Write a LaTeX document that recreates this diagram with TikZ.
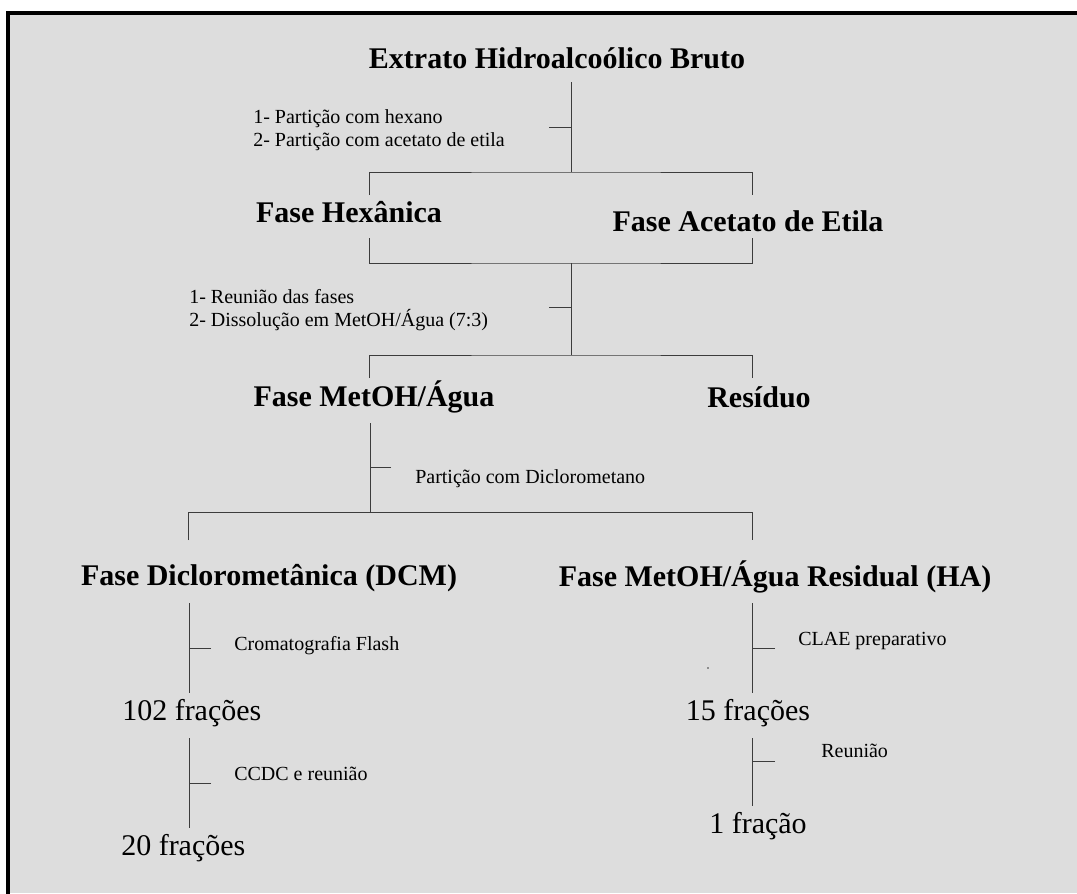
\documentclass[tikz,border=0pt]{standalone}
\usepackage{fontspec}
\setmainfont{Liberation Serif}
\definecolor{fundo}{RGB}{221,221,221}
\definecolor{traco}{RGB}{60,60,60}

\begin{document}
\begin{tikzpicture}[x = 0.75pt, y = -0.75pt,
    fase/.style = {font = \fontsize{22.5}{27}\selectfont\bfseries, inner sep = 0pt, anchor = base},
    fracao/.style = {font = \fontsize{22.5}{27}\selectfont, inner sep = 0pt, anchor = base},
    nota/.style = {font = \fontsize{15}{17.25}\selectfont, inner sep = 0pt, align = left, anchor = base west},
    galho/.style = {draw = traco, line width = 0.75pt}]
    \useasboundingbox (0,0) rectangle (1077,893);
    \clip (0,0) rectangle (1077,893);
    \fill[white] (0,0) rectangle (1077,893);
    \fill[fundo] (8,13) rectangle (1077,893);
    \draw[line width = 3pt] (8,900) |- (1090,13);

    % fases
    \node[fase] (bruto) at (557,68) {Extrato Hidroalcoólico Bruto};
    \node[fase] (hexanica) at (349,222) {Fase Hexânica};
    \node[fase] (acetato) at (748,231) {Fase Acetato de Etila};
    \node[fase] (metoh) at (374,406) {Fase MetOH/Água};
    \node[fase] (residuo) at (759,407) {Resíduo};
    \node[fase] (dcm) at (269,585) {Fase Diclorometânica (DCM)};
    \node[fase] (ha) at (775,586) {Fase MetOH/Água Residual (HA)};
    \node[fracao, anchor = base west] (f102) at (122,720) {102 frações};
    \node[fracao, anchor = base west] (f20) at (121,855) {20 frações};
    \node[fracao] (f15) at (748,720) {15 frações};
    \node[fracao] (f1) at (758,833) {1 fração};

    % etapas (base = ultima linha)
    \node[nota] (particao) at (253,146) {1- Partição com hexano\\2- Partição com acetato de etila};
    \node[nota] (reuniao) at (189,326) {1- Reunião das fases\\2- Dissolução em MetOH/Água (7:3)};
    \node[nota] (diclo) at (415,483) {Partição com Diclorometano};
    \node[nota] (flash) at (234,650) {Cromatografia Flash};
    \node[nota] (ccdc) at (234,780) {CCDC e reunião};
    \node[nota] (clae) at (798,645) {CLAE preparativo};
    \node[nota] (reun) at (821,757) {Reunião};

    % chaves
    \coordinate (t1) at (571,82);
    \coordinate (j1) at (571,172);
    \coordinate (k1) at (549,127);
    \coordinate (e1a) at (369,195);
    \coordinate (e1b) at (752,195);
    \draw[galho] (t1) -- (j1) (k1) -- (k1 -| j1);
    \draw[galho] (e1a) |- (j1) -| (e1b);

    \coordinate (s2a) at (369,238);
    \coordinate (s2b) at (752,238);
    \coordinate (j2) at (571,263);
    \coordinate (j2b) at (571,355);
    \coordinate (k2) at (549,307);
    \coordinate (e2a) at (369,378);
    \coordinate (e2b) at (752,378);
    \draw[galho] (s2a) |- (j2) -| (s2b);
    \draw[galho] (j2) -- (j2b) (k2) -- (k2 -| j2);
    \draw[galho] (e2a) |- (j2b) -| (e2b);

    \coordinate (t3) at (370,423);
    \coordinate (j3) at (370,512);
    \coordinate (k3) at (391,467);
    \coordinate (e3a) at (188,540);
    \coordinate (e3b) at (752,540);
    \draw[galho] (t3) -- (j3) (k3) -- (k3 -| j3);
    \draw[galho] (e3a) |- (j3) -| (e3b);

    % ramos finais
    \coordinate (l1a) at (189,603);
    \coordinate (l1b) at (189,693);
    \coordinate (l1k) at (211,648);
    \coordinate (l2a) at (189,738);
    \coordinate (l2b) at (189,828);
    \coordinate (l2k) at (211,783);
    \coordinate (r1a) at (752,603);
    \coordinate (r1b) at (752,693);
    \coordinate (r1k) at (775,648);
    \coordinate (r2a) at (752,738);
    \coordinate (r2b) at (752,806);
    \coordinate (r2k) at (775,761);
    \draw[galho] (l1a) -- (l1b) (l1k) -- (l1k -| l1a);
    \draw[galho] (l2a) -- (l2b) (l2k) -- (l2k -| l2a);
    \draw[galho] (r1a) -- (r1b) (r1k) -- (r1k -| r1a);
    \draw[galho] (r2a) -- (r2b) (r2k) -- (r2k -| r2a);
    \fill[traco] (708,668) circle (0.8);
\end{tikzpicture}
\end{document}
